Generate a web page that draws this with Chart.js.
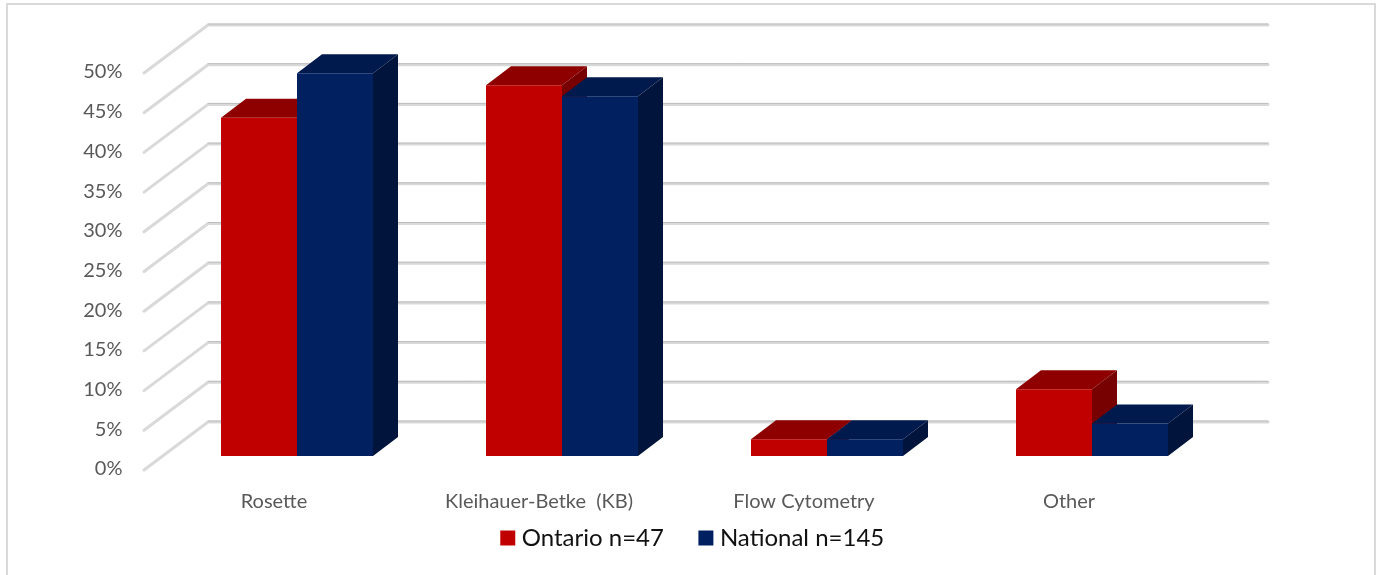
<!DOCTYPE html>
<html>
<head>
<meta charset="utf-8">
<title>Testing method</title>
<script src="https://cdn.jsdelivr.net/npm/chart.js@4/dist/chart.umd.min.js"></script>
<style>
html, body { margin: 0; padding: 0; background: #fff; overflow: hidden; }
#wrap { width: 1380px; height: 575px; }
</style>
</head>
<body>
<div id="wrap"><canvas id="myChart"></canvas></div>
<script>
const categories = ['Rosette', 'Kleihauer-Betke  (KB)', 'Flow Cytometry', 'Other'];
const ontario = [42.6, 46.7, 2.1, 8.4];
const national = [48.2, 45.3, 2.1, 4.1];

// depth of the fake 3d box, and where the walls sit from the bar plane
const barDepth = [25, 19];
const backWall = [43.5, 34];
const frontEdge = [20.5, 14];

const redFaces = { top: '#8e0000', side: '#770000' };
const blueFaces = { top: '#001a4d', side: '#00143c' };

const walls = {
    id: 'walls',
    afterLayout(chart) {
        // legend sits lower and further right than the plot box would put it
        chart.legend.left = 10;
        chart.legend.right = 1380;
        chart.legend.top = 486;
    },
    beforeDraw(chart) {
        const ctx = chart.ctx;
        const a = chart.chartArea;
        ctx.save();
        ctx.strokeStyle = '#d9d9d9';
        ctx.lineWidth = 2;
        ctx.strokeRect(7, 4, 1368, 590);

        chart.scales.y.ticks.forEach(t => {
            const y = chart.scales.y.getPixelForValue(t.value);
            const bx = a.left + backWall[0];
            const by = y - backWall[1];
            ctx.lineCap = 'round';
            ctx.lineJoin = 'round';
            ctx.strokeStyle = '#d9d9d9';
            ctx.lineWidth = 3;
            ctx.beginPath();
            ctx.moveTo(a.left - frontEdge[0], y + frontEdge[1]);
            ctx.lineTo(bx, by);
            ctx.lineTo(a.right + backWall[0], by);
            ctx.stroke();
            ctx.strokeStyle = '#bdbdbd';
            ctx.lineWidth = 1;
            ctx.beginPath();
            ctx.moveTo(bx, by - 1);
            ctx.lineTo(a.right + backWall[0], by - 1);
            ctx.stroke();
        });
        ctx.restore();
    },
    beforeDatasetsDraw(chart) {
        const ctx = chart.ctx;
        const [dx, dy] = barDepth;
        ctx.save();
        chart.data.datasets.forEach((ds, i) => {
            const faces = i === 0 ? redFaces : blueFaces;
            chart.getDatasetMeta(i).data.forEach(bar => {
                const l = bar.x - bar.width / 2;
                const r = bar.x + bar.width / 2;
                ctx.fillStyle = faces.top;
                ctx.beginPath();
                ctx.moveTo(l, bar.y);
                ctx.lineTo(l + dx, bar.y - dy);
                ctx.lineTo(r + dx, bar.y - dy);
                ctx.lineTo(r, bar.y);
                ctx.closePath();
                ctx.fill();
                ctx.fillStyle = faces.side;
                ctx.beginPath();
                ctx.moveTo(r, bar.y);
                ctx.lineTo(r + dx, bar.y - dy);
                ctx.lineTo(r + dx, bar.base - dy);
                ctx.lineTo(r, bar.base);
                ctx.closePath();
                ctx.fill();
            });
        });
        ctx.restore();
    }
};

new Chart('myChart', {
    type: 'bar',
    plugins: [walls],
    data: {
        labels: categories,
        datasets: [{
            label: 'Ontario n=47',
            data: ontario,
            backgroundColor: '#c00000',
            borderWidth: 0,
            barPercentage: 1,
            categoryPercentage: 0.5736
        }, {
            label: 'National n=145',
            data: national,
            backgroundColor: '#002060',
            borderWidth: 0,
            barPercentage: 1,
            categoryPercentage: 0.5736
        }]
    },
    options: {
        responsive: true,
        maintainAspectRatio: false,
        animation: false,
        layout: { padding: { left: 0, right: 155.5, top: 59, bottom: 4 } },
        plugins: {
            tooltip: { enabled: false },
            legend: {
                position: 'bottom',
                maxHeight: 60,
                labels: {
                    usePointStyle: true,
                    pointStyle: 'rect',
                    boxWidth: 4,
                    boxHeight: 15,
                    padding: 40,
                    color: '#111',
                    font: { family: 'Lato', size: 24 }
                }
            }
        },
        scales: {
            x: {
                grid: { display: false, drawTicks: false },
                border: { display: false },
                afterFit(scale) { scale.height = 55; },
                ticks: {
                    color: '#595959',
                    font: { family: 'Lato', size: 20 },
                    padding: 34,
                    labelOffset: -23,
                    maxRotation: 0,
                    autoSkip: false
                }
            },
            y: {
                min: 0,
                max: 50,
                grid: { display: false, drawTicks: false },
                border: { display: false },
                afterFit(scale) { scale.width = 164.5; },
                ticks: {
                    stepSize: 5,
                    color: '#595959',
                    font: { family: 'Lato', size: 20 },
                    padding: 42,
                    labelOffset: 13,
                    callback: v => v + '%'
                }
            }
        }
    }
});
</script>
</body>
</html>
